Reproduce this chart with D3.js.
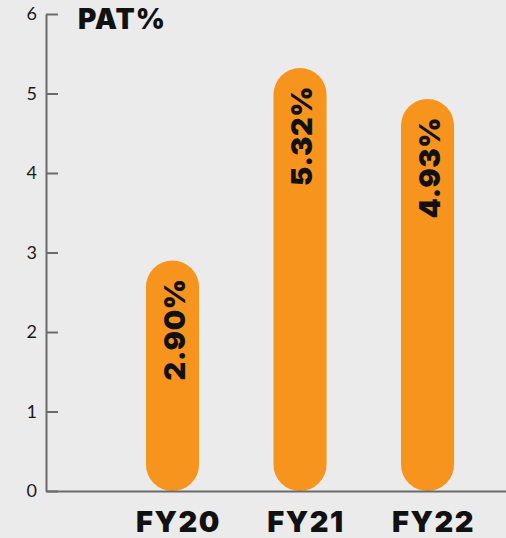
<!DOCTYPE html>
<html>
<head>
<meta charset="utf-8">
<script src="https://cdn.jsdelivr.net/npm/d3@7"></script>
<style>
  body { margin: 0; background: #ebebeb; }
  svg { display: block; }
</style>
</head>
<body>
<div id="chart"></div>
<script>
var years = ["FY20", "FY21", "FY22"];
var patValues = [2.90, 5.32, 4.93];
var yTicks = [0, 1, 2, 3, 4, 5, 6];

var width = 506, height = 538;
var margin = { top: 14, left: 46, bottom: 47 };

var svg = d3.select("#chart")
    .append("svg")
    .attr("width", width)
    .attr("height", height);

svg.append("rect")
    .attr("width", width)
    .attr("height", height)
    .attr("fill", "#ebebeb");

var y = d3.scaleLinear()
    .domain([0, 6])
    .range([height - margin.bottom, margin.top]);

var x = d3.scaleBand()
    .domain(years)
    .range([margin.left, 554])
    .paddingInner(0.584)
    .paddingOuter(0.784);

var data = years.map(function(d, i) { return { year: d, value: patValues[i] }; });

// bars
svg.append("g")
    .selectAll("rect")
    .data(data)
    .enter().append("rect")
    .attr("x", d => x(d.year))
    .attr("y", d => y(d.value))
    .attr("width", x.bandwidth())
    .attr("height", d => y(0) - y(d.value))
    .attr("rx", x.bandwidth() / 2)
    .attr("fill", "#f7941d");

// value labels, rotated inside bars
svg.append("g")
    .selectAll("text")
    .data(data)
    .enter().append("text")
    .attr("transform", d => "translate(" + (x(d.year) + x.bandwidth() / 2 + 2) + "," + (y(d.value) + 18) + ") rotate(-90)")
    .attr("text-anchor", "end")
    .attr("dy", "0.36em")
    .attr("font-family", "Inter, 'Noto Sans', sans-serif")
    .attr("font-weight", 900)
    .attr("font-size", 29)
    .attr("letter-spacing", 0.5)
    .attr("fill", "#111")
    .text(d => d.value.toFixed(2) + "%");

// y axis
var yAxis = svg.append("g")
    .attr("transform", "translate(" + margin.left + ",0)")
    .call(d3.axisLeft(y).tickValues(yTicks).tickFormat(d3.format("d"))
        .tickSizeInner(-12).tickSizeOuter(0).tickPadding(9));

yAxis.select(".domain").attr("stroke", "#6b6b6b").attr("stroke-width", 2);
yAxis.selectAll(".tick line").attr("stroke", "#6b6b6b").attr("stroke-width", 2);
yAxis.selectAll(".tick text")
    .attr("font-family", "Lato, 'Open Sans', sans-serif")
    .attr("font-weight", 400)
    .attr("font-size", 18)
    .attr("fill", "#1a1a1a");

// x axis
var xAxis = svg.append("g")
    .attr("transform", "translate(0," + y(0) + ")")
    .call(d3.axisBottom(x).tickSize(0).tickSizeOuter(0).tickPadding(20));

xAxis.select(".domain").attr("stroke", "#6b6b6b").attr("stroke-width", 2);
xAxis.selectAll(".tick text")
    .attr("dx", 6)
    .attr("font-family", "Inter, 'Noto Sans', sans-serif")
    .attr("font-weight", 900)
    .attr("font-size", 29)
    .attr("letter-spacing", 1.5)
    .attr("fill", "#111");

// title
svg.append("text")
    .attr("x", 78)
    .attr("y", 29)
    .attr("font-family", "Inter, 'Noto Sans', sans-serif")
    .attr("font-weight", 900)
    .attr("font-size", 28)
    .attr("letter-spacing", 1)
    .attr("fill", "#111")
    .text("PAT%");
</script>
</body>
</html>
